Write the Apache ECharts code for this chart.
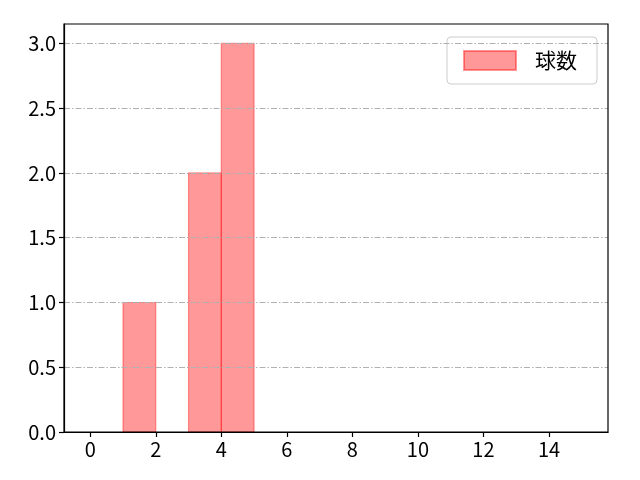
<!DOCTYPE html>
<html><head><meta charset="utf-8">
<script src="https://cdn.jsdelivr.net/npm/echarts@6/dist/echarts.min.js"></script>
<style>html,body{margin:0;padding:0;background:#fff}#c{width:640px;height:480px}</style>
</head><body><div id="c"></div>
<script>
const binStart = [1, 3, 4];
const binEnd = [2, 4, 5];
const counts = [1, 2, 3];
const xTicks = [0, 2, 4, 6, 8, 10, 12, 14];
const yTicks = [0, 0.5, 1.0, 1.5, 2.0, 2.5, 3.0];
const seriesName = '球数';

const data = binStart.map((s, i) => [s, binEnd[i], counts[i]]);
const font = '"Noto Sans CJK JP", "Noto Sans", sans-serif';
const chart = echarts.init(document.getElementById('c'));
chart.setOption({
  animation: false,
  grid: {left: 64, right: 32, top: 24, bottom: 48, show: true, borderColor: '#000', borderWidth: 1.2, backgroundColor: 'transparent', z: 7},
  legend: {
    right: 43, top: 37, padding: [13, 20, 13, 16],
    backgroundColor: 'rgba(255,255,255,0.8)', borderColor: '#cccccc', borderWidth: 1, borderRadius: 4,
    itemWidth: 52, itemHeight: 19,
    textStyle: {fontFamily: font, fontSize: 21, color: '#000', padding: [0, 0, 0, 14]},
    data: [{name: seriesName, icon: 'rect'}]
  },
  xAxis: {
    type: 'value', min: -0.8, max: 15.8, z: 6,
    axisLine: {show: true, onZero: false, lineStyle: {color: '#000', width: 1.2}},
    axisTick: {show: true, length: 5, lineStyle: {color: '#000', width: 1.2}, customValues: xTicks},
    axisLabel: {fontFamily: font, fontSize: 20, color: '#000', margin: 7, customValues: xTicks, formatter: v => String(v)},
    splitLine: {show: false}
  },
  yAxis: {
    type: 'value', min: 0, max: 3.15, z: 5,
    axisLine: {show: true, onZero: false, lineStyle: {color: '#000', width: 1.2}},
    axisTick: {show: true, length: 5, lineStyle: {color: '#000', width: 1.2}, customValues: yTicks},
    axisLabel: {fontFamily: font, fontSize: 20, color: '#000', margin: 8, customValues: yTicks, formatter: v => v.toFixed(1)},
    splitLine: {show: true, lineStyle: {color: '#b0b0b0', width: 1, type: [6, 2, 1.5, 2]}}
  },
  series: [{
    name: seriesName, type: 'custom', z: 2,
    itemStyle: {color: 'rgba(255,0,0,0.4)', borderColor: 'rgba(255,0,0,0.4)', borderWidth: 1.2},
    renderItem: function (params, api) {
      const p0 = api.coord([api.value(0), 0]);
      const p1 = api.coord([api.value(1), api.value(2)]);
      return {
        type: 'rect',
        shape: {x: p0[0], y: p1[1], width: p1[0] - p0[0], height: p0[1] - p1[1]},
        style: {fill: 'rgba(255,0,0,0.4)', stroke: 'rgba(255,0,0,0.4)', lineWidth: 1.2}
      };
    },
    encode: {x: [0, 1], y: 2},
    data: data
  }]
});
</script></body></html>
